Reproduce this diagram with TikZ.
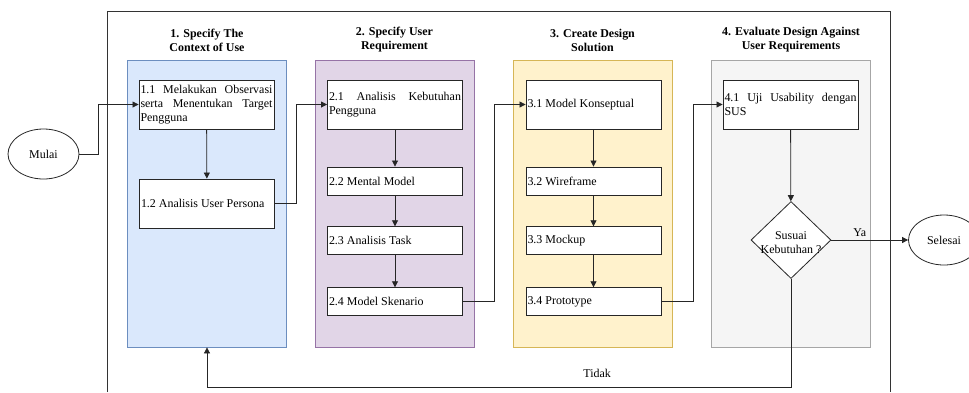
\documentclass[tikz,border=0pt]{standalone}
\usepackage{fontspec}
\setmainfont{Liberation Serif}
\usetikzlibrary{arrows.meta,shapes.geometric}
\definecolor{laneblue}{HTML}{DAE8FC}
\definecolor{laneblueline}{HTML}{6C8EBF}
\definecolor{lanepurple}{HTML}{E1D5E7}
\definecolor{lanepurpleline}{HTML}{9673A6}
\definecolor{laneyellow}{HTML}{FFF2CC}
\definecolor{laneyellowline}{HTML}{D6B656}
\definecolor{lanegray}{HTML}{F5F5F5}
\definecolor{lanegrayline}{HTML}{A6A6A6}
\newcommand{\steptext}{\fontsize{12}{14}\selectfont\hyphenpenalty=10000\tolerance=10000 }

\tikzset{
  frame/.style={draw=black!80, line width=1bp},
  lanebox/.style={line width=0.8bp, minimum width=159bp, minimum height=287bp, inner sep=0pt},
  lanetitle/.style={align=center, font=\steptext\bfseries},
  stepbox/.style={draw=black!85, line width=0.9bp, fill=white, text width=132bp,
    inner xsep=1.5bp, inner ysep=0pt, align=justify, font=\steptext},
  terminal/.style={ellipse, draw=black!85, line width=0.8bp, fill=white, minimum width=71bp,
    minimum height=50bp, inner sep=0pt, font=\steptext},
  decision/.style={diamond, draw=black!85, line width=0.8bp, fill=white, minimum width=80bp,
    minimum height=77bp, inner sep=0pt},
  flow/.style={draw=black!85, line width=0.8bp, -{Triangle[length=6bp,width=6bp]}},
  flowlabel/.style={font=\steptext}
}

\begin{document}
\begin{tikzpicture}[x=1bp, y=-1bp]
  \clip (0,0) rectangle (969,392);
  % outer frame
  \draw[frame] (107,392) -- (107,11) -- (890,11) -- (890,392);

  % lanes
  \node[lanebox, fill=laneblue, draw=laneblueline] (lane1) at (207,203.5) {};
  \node[lanebox, fill=lanepurple, draw=lanepurpleline] (lane2) at (394.5,203.5) {};
  \node[lanebox, fill=laneyellow, draw=laneyellowline] (lane3) at (592.5,203.5) {};
  \node[lanebox, fill=lanegray, draw=lanegrayline] (lane4) at (791,203.5) {};

  \node[lanetitle] (t1) at (207,40) {1. Specify The\\Context of Use};
  \node[lanetitle] (t2) at (394.5,40) {2. Specify User\\Requirement};
  \node[lanetitle] (t3) at (592.5,40) {3. Create Design\\Solution};
  \node[lanetitle] (t4) at (791,40) {4. Evaluate Design Against\\User Requirements};

  % steps
  \node[stepbox, minimum height=49bp] (s11) at (206.5,104.5) {1.1 Melakukan Observasi serta Menentukan Target Pengguna};
  \node[stepbox, minimum height=49bp] (s12) at (207,203.5) {1.2 Analisis User Persona};

  \node[stepbox, minimum height=49bp] (s21) at (395,104.5) {2.1 Analisis Kebutuhan Pengguna};
  \node[stepbox, minimum height=28bp] (s22) at (395,181) {2.2 Mental Model};
  \node[stepbox, minimum height=27.5bp] (s23) at (395,240.5) {2.3 Analisis Task};
  \node[stepbox, minimum height=27.5bp] (s24) at (395,301.5) {2.4 Model Skenario};

  \node[stepbox, minimum height=49bp] (s31) at (593.5,104.5) {3.1 Model Konseptual};
  \node[stepbox, minimum height=28bp] (s32) at (593.5,181) {3.2 Wireframe};
  \node[stepbox, minimum height=27.5bp] (s33) at (593.5,240.5) {3.3 Mockup};
  \node[stepbox, minimum height=27.5bp] (s34) at (593.5,301.5) {3.4 Prototype};

  \node[stepbox, minimum height=49bp] (s41) at (790.5,104.5) {4.1 Uji Usability dengan SUS};
  \node[decision, label={[align=center, font=\steptext, yshift=-3bp]center:{Susuai\\Kebutuhan ?}}] (dec) at (791,240) {};

  \node[terminal] (mulai) at (43.5,154) {Mulai};
  \node[terminal] (selesai) at (944,240) {Selesai};

  % connectors
  \draw[flow] (mulai.east) -- ++(19,0) |- (s11.west);
  \draw[flow] (s11) -- (s12);
  \draw[flow] (s12.east) -- ++(21,0) |- (s21.west);
  \draw[flow] (s21) -- (s22);
  \draw[flow] (s22) -- (s23);
  \draw[flow] (s23) -- (s24);
  \draw[flow] (s24.east) -- ++(31,0) |- (s31.west);
  \draw[flow] (s31) -- (s32);
  \draw[flow] (s32) -- (s33);
  \draw[flow] (s33) -- (s34);
  \draw[flow] (s34.east) -- ++(32,0) |- (s41.west);
  \draw[flow] (s41) -- (dec);
  \draw[flow] (dec.east) -- node[flowlabel, above, pos=0.37] {Ya} (selesai.west);
  \coordinate (back) at (791,387);
  \draw[flow] (dec.south) -- (back) -| node[flowlabel, above=6bp, pos=0.166] {Tidak} (lane1.south);
\end{tikzpicture}
\end{document}
